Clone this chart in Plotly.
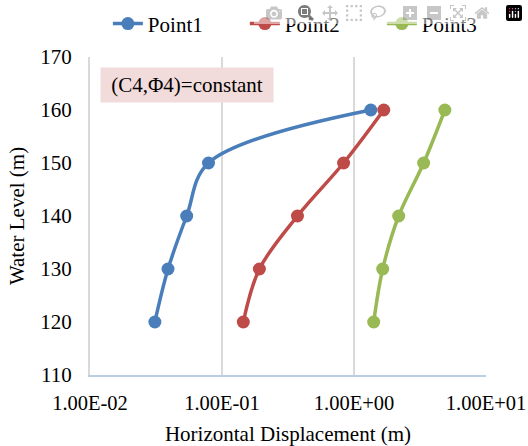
import plotly.graph_objects as go

levels = [120, 130, 140, 150, 160]
point1 = [0.031, 0.039, 0.054, 0.079, 1.34]
point2 = [0.145, 0.192, 0.373, 0.834, 1.68]
point3 = [1.41, 1.65, 2.18, 3.37, 4.88]
series_names = ["Point1", "Point2", "Point3"]
colors = ["#4a7ebb", "#be4b48", "#98b954"]
x_tickvals = [0.01, 0.1, 1, 10]
x_ticktext = ["1.00E-02", "1.00E-01", "1.00E+00", "1.00E+01"]

FAM = "Liberation Serif"

fig = go.Figure()
for name, vals, c in zip(series_names, [point1, point2, point3], colors):
    fig.add_trace(go.Scatter(
        x=vals, y=levels, name=name, mode="lines+markers",
        line=dict(color=c, width=3.5, shape="spline", smoothing=1),
        marker=dict(color=c, size=13),
    ))

def f(size=21):
    return dict(family=FAM, size=size, color="#000000")

fig.update_layout(
    width=528, height=446,
    margin=dict(l=90, r=42, t=57, b=71, autoexpand=False),
    paper_bgcolor="white", plot_bgcolor="white",
    font=f(),
    showlegend=True,
    legend=dict(orientation="h", x=1.083, xanchor="right", y=1.104, yanchor="middle",
                font=f(), tracegroupgap=0, bgcolor="rgba(0,0,0,0)",
                entrywidth=92, entrywidthmode="pixels"),
    xaxis=dict(type="log", range=[-2, 1], tickvals=x_tickvals, ticktext=x_ticktext,
               showgrid=True, gridcolor="#d9d9d9", gridwidth=2,
               showline=True, linecolor="#b9cde5", linewidth=2,
               ticks="", zeroline=False, ticklabelstandoff=8, tickfont=f(20.5),
               automargin=False,
               title=dict(text="Horizontal Displacement (m)", font=f(), standoff=14)),
    yaxis=dict(range=[110, 170], dtick=10, showgrid=False,
               showline=True, linecolor="#d9d9d9", linewidth=2, ticks="",
               zeroline=False, ticklabelstandoff=12, tickfont=f(),
               automargin=False,
               title=dict(text="Water Level (m)", font=f(), standoff=10)),
)
fig.add_annotation(
    xref="paper", yref="paper", x=0.024, y=0.969, xanchor="left", yanchor="top",
    text="(C4,\u03a64)=constant", showarrow=False, width=164, height=26,
    bgcolor="#f2dcdb", font=f(), borderpad=4,
)
fig.write_html(
    "out.html",
    post_script="document.body.style.margin='0';document.body.style.overflow='hidden';",
)
